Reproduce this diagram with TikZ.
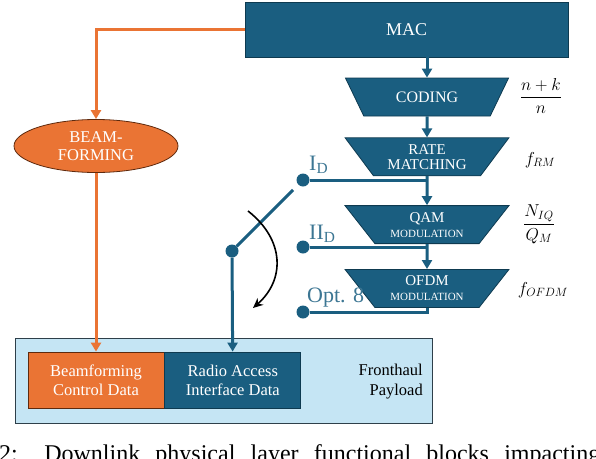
\documentclass[tikz,border=0pt]{standalone}
\usepackage{fontspec}
\setmainfont{Liberation Serif}
\usetikzlibrary{positioning,arrows.meta,shapes.geometric}
\definecolor{phyblue}{HTML}{1A5E80}
\definecolor{phyedge}{HTML}{0E3A50}
\definecolor{bforange}{HTML}{EA7434}
\definecolor{bfedge}{HTML}{5E2A0E}
\definecolor{fhblue}{HTML}{C5E5F4}
\definecolor{fhedge}{HTML}{2E3F4A}

\begin{document}
\begin{tikzpicture}[x=1pt,y=-1pt,
		>={Triangle[width=10pt,length=9pt]},
		block/.style={
			draw=phyedge,
			fill=phyblue,
			text=white,
			line width=0.8pt,
			inner sep=0pt,
			align=center
		},
		stage/.style={
			trapezium,
			trapezium stretches=true,
			shape border rotate=180,
			trapezium angle=50,
			draw=phyedge,
			fill=phyblue,
			text=white,
			line width=0.8pt,
			minimum width=164pt,
			minimum height=38pt,
			inner sep=0pt,
			align=center,
			font=\fontsize{15}{15}\selectfont
		},
		tap/.style={circle,fill=phyblue,minimum size=13pt,inner sep=0pt},
		link/.style={phyblue,line width=3pt},
		bflink/.style={bforange,line width=3pt},
		optlabel/.style={text=phyblue!85!white,anchor=base west,inner sep=0pt,font=\fontsize{22}{22}\selectfont},
		ratio/.style={inner sep=0pt,font=\fontsize{18}{18}\selectfont}]
	
	\useasboundingbox (0,0) rectangle (596,458);
	
	\node(mac)[block,minimum width=323pt,minimum height=55pt,font=\fontsize{18}{18}\selectfont] at (406.5,29.5){MAC};
	
	\node(coding)[stage,font=\fontsize{16}{16}\selectfont] at (427,97){CODING};
	
	\node(rate)[stage,below=21pt of coding]{RATE\\MATCHING};
	
	\node(qam)[stage,below=29pt of rate]{QAM\\{\fontsize{11}{12}\selectfont MODULATION}};
	
	\node(ofdm)[stage,below=25pt of qam]{OFDM\\{\fontsize{11}{12}\selectfont MODULATION}};
	
	\node(beam)[ellipse,draw=bfedge,fill=bforange,text=white,line width=0.8pt,minimum width=164pt,minimum height=53pt,inner sep=0pt,align=center,font=\fontsize{16.5}{18}\selectfont] at (96,146){BEAM-\\FORMING};
	
	\node(payload)[draw=fhedge,fill=fhblue,line width=1pt,minimum width=417pt,minimum height=85pt,inner sep=0pt] at (223.5,380.5){};
	
	\node(bfdata)[block,draw=bfedge,fill=bforange,minimum width=136pt,minimum height=56pt,font=\fontsize{16.5}{19}\selectfont] at (96,380){Beamforming\\Control Data};
	
	\node(radio)[block,right=0pt of bfdata,minimum width=136pt,minimum height=56pt,font=\fontsize{16.5}{19}\selectfont]{Radio Access\\Interface Data};
	
	\node(fhlabel)[anchor=east,align=right,inner sep=0pt,font=\fontsize{16.5}{20}\selectfont] at (423,382){Fronthaul\\Payload};
	
	\node(tapI)[tap] at (303,180){};
	
	\node(tapII)[tap] at (303,247){};
	
	\node(tapO)[tap] at (303,312){};
	
	\node(pivot)[tap] at (232,251){};
	
	\coordinate(swtip) at (293,190);
	
	\node(labI)[optlabel] at (309,170){I\textsubscript{D}};
	
	\node(labII)[optlabel] at (309,239){II\textsubscript{D}};
	
	\node(labO)[optlabel] at (307,302){Opt. 8};
	
	\node(rcoding)[ratio] at (541,96){$\displaystyle\frac{n+k}{n}$};
	
	\node(rrate)[ratio] at (540,160){$f_{RM}$};
	
	\node(rqam)[ratio] at (539,224){$\displaystyle\frac{N_{IQ}}{Q_M}$};
	
	\node(rofdm)[ratio] at (543,290){$f_{OFDM}$};
	
	\draw[link,->](coding.north |- mac.south)--(coding.north);
	
	\draw[link,->](coding)--(rate);
	
	\draw[link,->](rate)--(qam);
	
	\draw[link,->](qam)--(ofdm);
	
	\draw[link](tapI)--(tapI -| rate.south);
	
	\draw[link](tapII)--(tapII -| qam.south);
	
	\draw[link](tapO)-|(ofdm.south);
	
	\draw[link](pivot)--(swtip);
	
	\draw[link,->](pivot)--(radio);
	
	\draw[bflink,->](mac.west)-|(beam.north);
	
	\draw[bflink,->](beam)--(bfdata);
	
	% swing of the switch
	\coordinate(swingA) at (248,211);
	\coordinate(swingB) at (253,308);
	\draw[black,line width=1.6pt,-{Stealth[length=10pt,width=9pt]}](swingA) .. controls (285,240) and (285,280) .. (swingB);
	
	\begin{scope}
		\clip (0,0) rectangle (596,458);
		\node(caption)[anchor=base west,inner sep=0pt,font=\fontsize{24}{24}\selectfont] at (-1,461){\makebox[601pt][s]{2: Downlink physical layer functional blocks impacting}};
	\end{scope}
	
\end{tikzpicture}
\end{document}
